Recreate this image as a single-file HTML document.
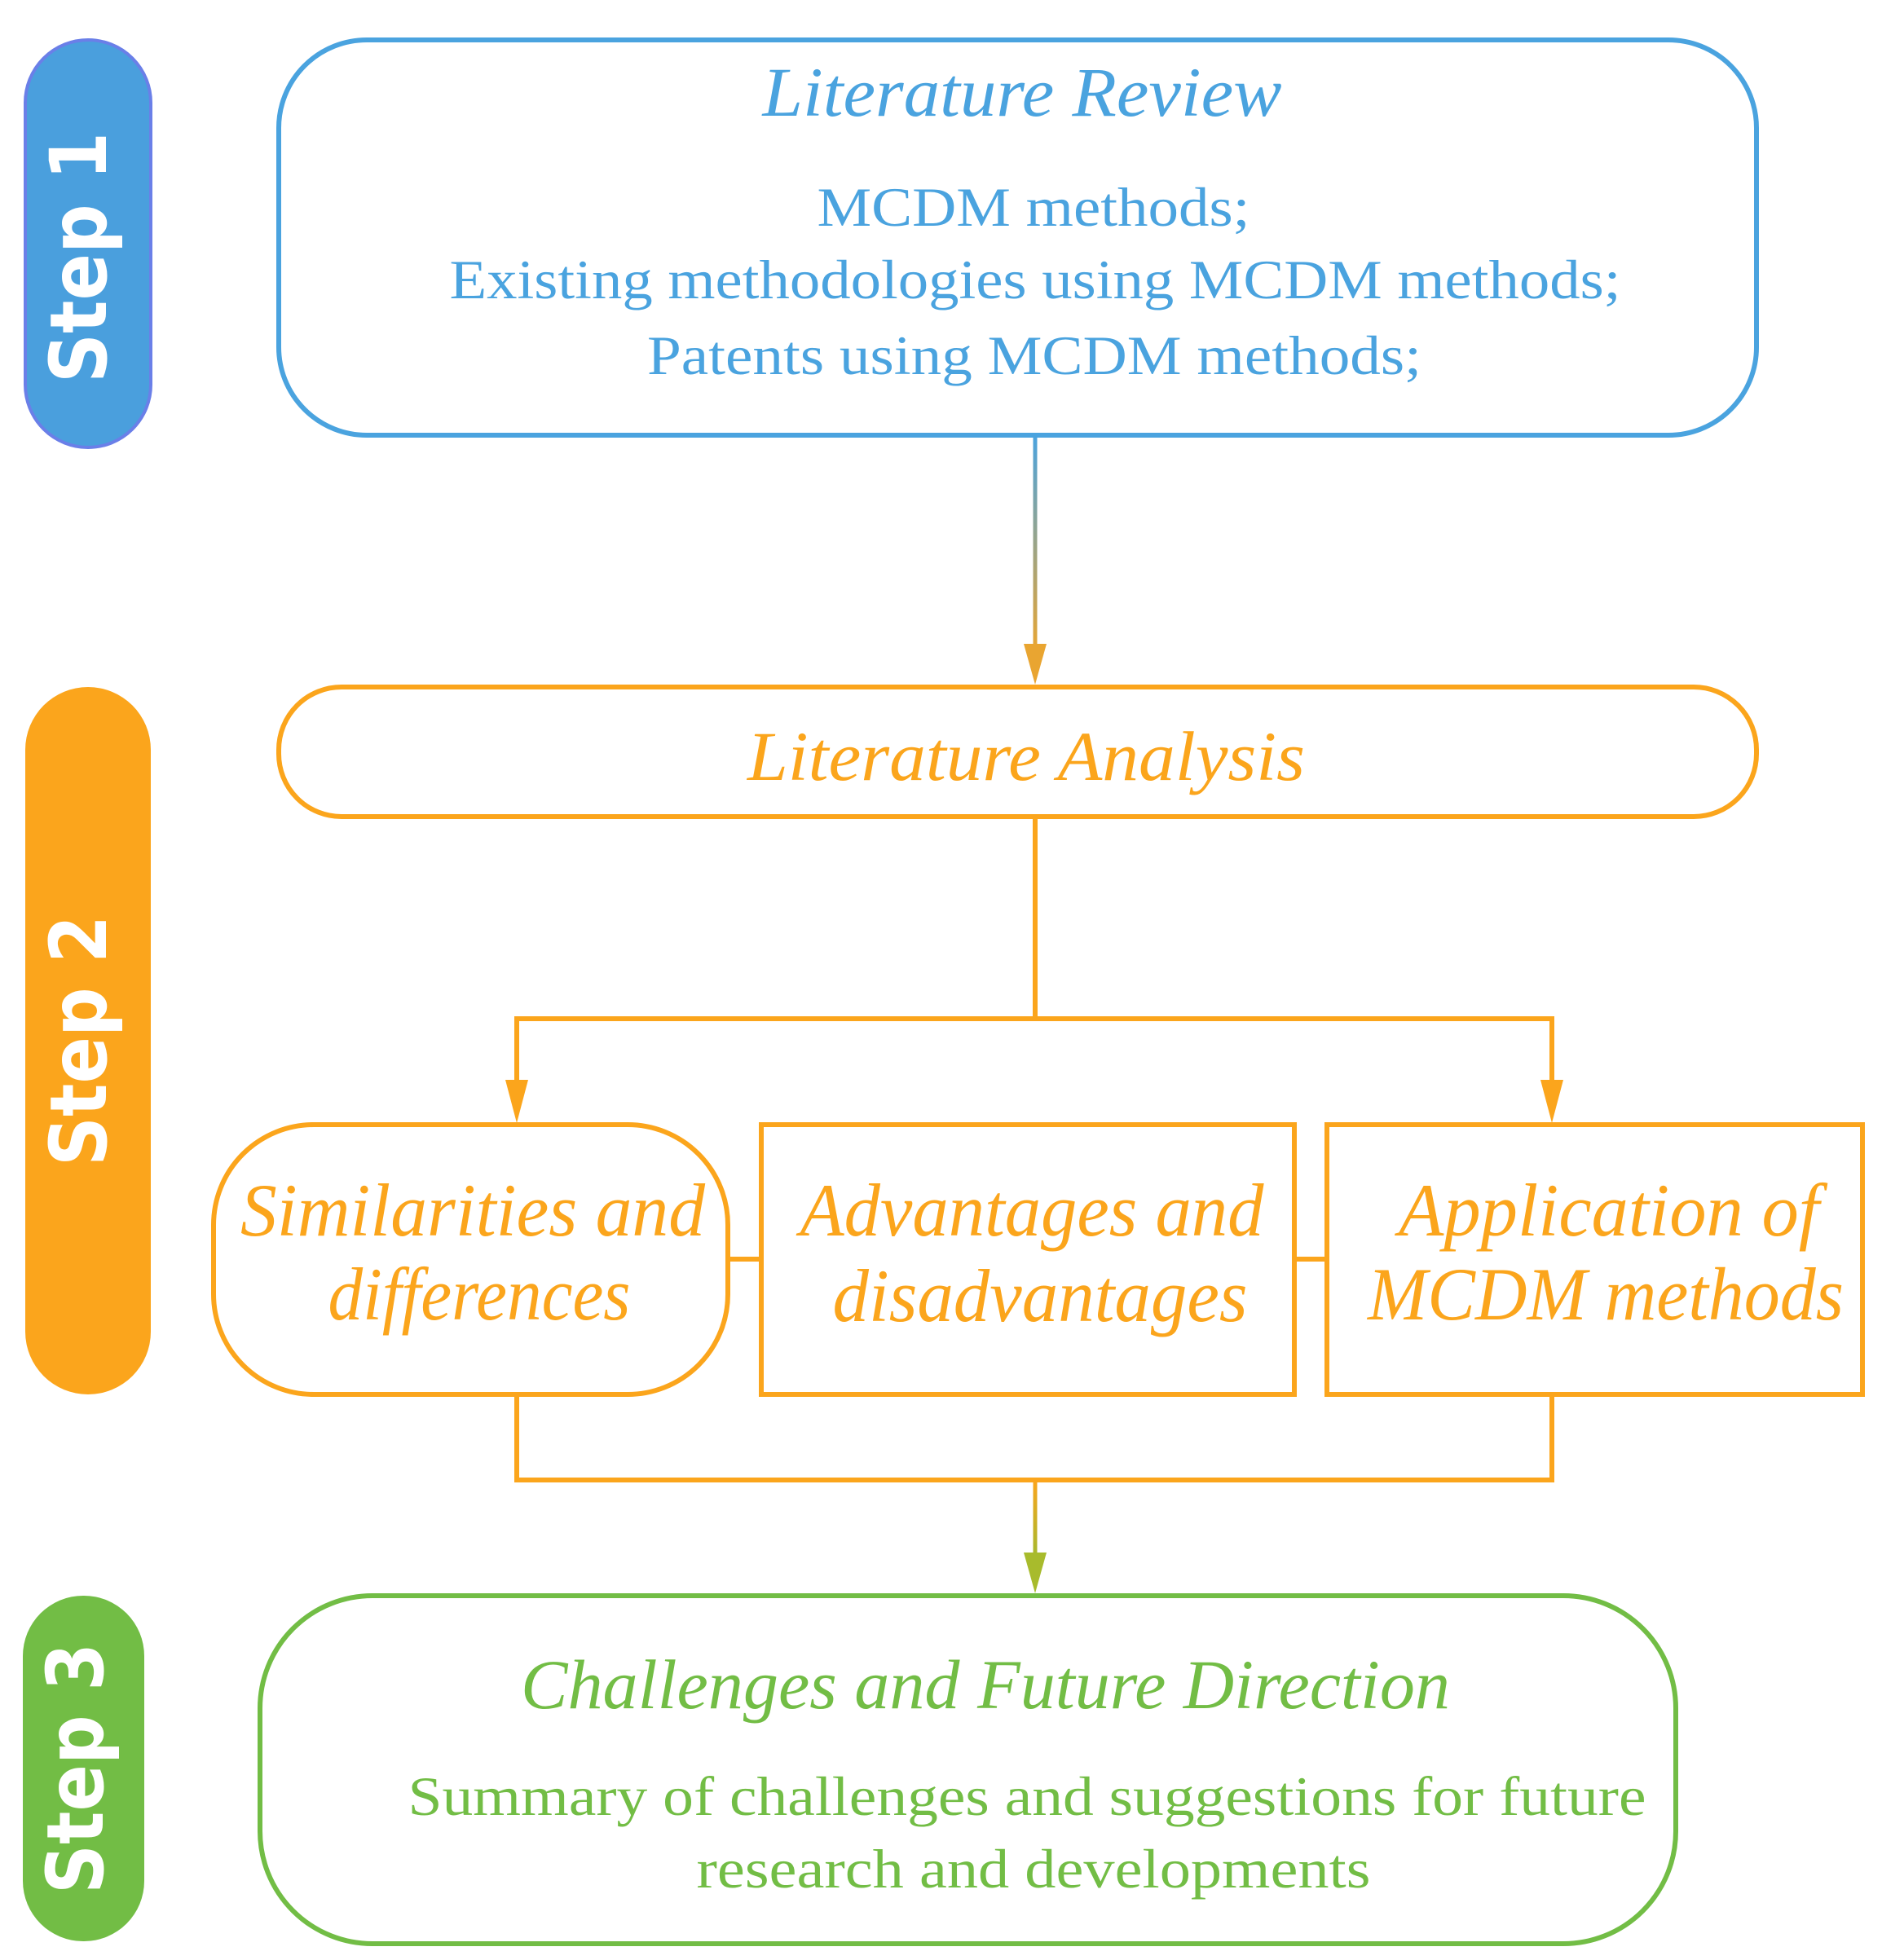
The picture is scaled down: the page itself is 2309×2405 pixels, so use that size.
<!DOCTYPE html>
<html><head><meta charset="utf-8"><style>
html,body{margin:0;padding:0;background:#fff;}
svg{display:block;}
.t{font-family:"Liberation Serif",serif;font-style:italic;}
.b{font-family:"Liberation Serif",serif;}
.s{font-family:"DejaVu Sans","Liberation Sans",sans-serif;font-weight:bold;fill:#fff;}
</style></head><body>
<svg width="2309" height="2405" viewBox="0 0 2309 2405" xmlns="http://www.w3.org/2000/svg">
<defs>
<linearGradient id="g1" gradientUnits="userSpaceOnUse" x1="0" y1="534" x2="0" y2="800"><stop offset="0" stop-color="#4aa3df"/><stop offset="1" stop-color="#e9a531"/></linearGradient>
<linearGradient id="g2" gradientUnits="userSpaceOnUse" x1="0" y1="1816" x2="0" y2="1920"><stop offset="0" stop-color="#fba51c"/><stop offset="1" stop-color="#9cbb2f"/></linearGradient>
</defs>
<!-- Step pills -->
<rect x="31" y="49" width="154" height="500" rx="77" fill="#4a9fdd" stroke="#6a7fe8" stroke-width="4"/>
<text class="s" transform="translate(130,316) rotate(-90)" text-anchor="middle" font-size="96" textLength="308" lengthAdjust="spacingAndGlyphs">Step 1</text>
<rect x="31" y="843" width="154" height="868" rx="77" fill="#fba51c"/>
<text class="s" transform="translate(130,1277) rotate(-90)" text-anchor="middle" font-size="96" textLength="308" lengthAdjust="spacingAndGlyphs">Step 2</text>
<rect x="28" y="1958" width="149" height="424" rx="74" fill="#72bd45"/>
<text class="s" transform="translate(126,2170) rotate(-90)" text-anchor="middle" font-size="96" textLength="308" lengthAdjust="spacingAndGlyphs">Step 3</text>

<!-- Box 1 -->
<rect x="342" y="49" width="1813" height="485" rx="108" fill="none" stroke="#4aa3df" stroke-width="6"/>
<text class="t" x="1254" y="142" text-anchor="middle" font-size="86" fill="#4aa3df" textLength="637" lengthAdjust="spacingAndGlyphs">Literature Review</text>
<g class="b" fill="#4aa3df" font-size="68" text-anchor="middle">
<text x="1268" y="277" textLength="531" lengthAdjust="spacingAndGlyphs">MCDM methods;</text>
<text x="1270" y="366" textLength="1437" lengthAdjust="spacingAndGlyphs">Existing methodologies using MCDM methods;</text>
<text x="1269" y="459" textLength="950" lengthAdjust="spacingAndGlyphs">Patents using MCDM methods;</text>
</g>
<!-- arrow 1 -->
<line x1="1270" y1="534" x2="1270" y2="800" stroke="url(#g1)" stroke-width="5"/>
<polygon points="1256,790 1284,790 1270,840" fill="#e9a531"/>

<!-- Box 2 -->
<rect x="342" y="843" width="1813" height="159" rx="77" fill="none" stroke="#fba51c" stroke-width="6"/>
<text class="t" x="1259" y="957" text-anchor="middle" font-size="86" fill="#fba51c" textLength="684" lengthAdjust="spacingAndGlyphs">Literature Analysis</text>

<g stroke="#fba51c" stroke-width="6" fill="none">
<polyline points="1270,1002 1270,1250"/>
<polyline points="634,1340 634,1250 1904,1250 1904,1340"/>
<line x1="893" y1="1545" x2="934" y2="1545"/>
<line x1="1588" y1="1545" x2="1628" y2="1545"/>
<polyline points="634,1711 634,1816 1904,1816 1904,1711"/>
</g>
<polygon points="620,1325 648,1325 634,1378" fill="#fba51c"/>
<polygon points="1890,1325 1918,1325 1904,1378" fill="#fba51c"/>

<!-- three boxes -->
<rect x="262" y="1380" width="631" height="331" rx="123" fill="none" stroke="#fba51c" stroke-width="6"/>
<rect x="934" y="1380" width="654" height="331" fill="none" stroke="#fba51c" stroke-width="6"/>
<rect x="1628" y="1380" width="657" height="331" fill="none" stroke="#fba51c" stroke-width="6"/>
<g class="t" fill="#fba51c" font-size="92" text-anchor="middle">
<text x="580" y="1516" textLength="570" lengthAdjust="spacingAndGlyphs">Similarities and</text>
<text x="588" y="1619" textLength="371" lengthAdjust="spacingAndGlyphs">differences</text>
<text x="1266" y="1516" textLength="569" lengthAdjust="spacingAndGlyphs">Advantages and</text>
<text x="1276" y="1621" textLength="509" lengthAdjust="spacingAndGlyphs">disadvantages</text>
<text x="1974" y="1516" textLength="516" lengthAdjust="spacingAndGlyphs">Application of</text>
<text x="1970" y="1619" textLength="584" lengthAdjust="spacingAndGlyphs">MCDM methods</text>
</g>

<!-- arrow 3 -->
<line x1="1270" y1="1816" x2="1270" y2="1920" stroke="url(#g2)" stroke-width="5"/>
<polygon points="1256,1905 1284,1905 1270,1955" fill="#a8bb2c"/>

<!-- Box 3 -->
<rect x="319" y="1958" width="1737" height="427" rx="138" fill="none" stroke="#72bd45" stroke-width="6"/>
<text class="t" x="1209" y="2096" text-anchor="middle" font-size="86" fill="#72bd45" textLength="1140" lengthAdjust="spacingAndGlyphs">Challenges and Future Direction</text>
<g class="b" fill="#72bd45" font-size="68" text-anchor="middle">
<text x="1260" y="2227" textLength="1519" lengthAdjust="spacingAndGlyphs">Summary of challenges and suggestions for future</text>
<text x="1268" y="2316" textLength="827" lengthAdjust="spacingAndGlyphs">research and developments</text>
</g>
</svg>
</body></html>
